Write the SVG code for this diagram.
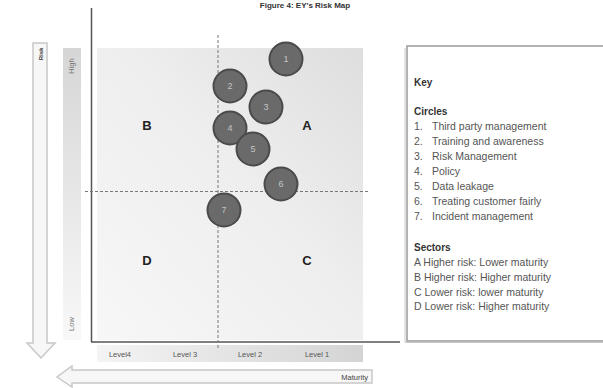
<svg xmlns="http://www.w3.org/2000/svg" width="603" height="388" viewBox="0 0 603 388">
<defs>
<linearGradient id="bg" x1="1" y1="0" x2="0" y2="1">
<stop offset="0" stop-color="#dedede"/>
<stop offset="0.45" stop-color="#eeeeee"/>
<stop offset="1" stop-color="#f7f7f7"/>
</linearGradient>
<linearGradient id="vbar" x1="0" y1="0" x2="0" y2="1">
<stop offset="0" stop-color="#d6d6d6"/>
<stop offset="1" stop-color="#f8f8f8"/>
</linearGradient>
<linearGradient id="hbar" x1="0" y1="0" x2="1" y2="0">
<stop offset="0" stop-color="#f4f4f4"/>
<stop offset="1" stop-color="#d4d4d4"/>
</linearGradient>
<style>
.c{fill:#6a6a6a;stroke:#4a4a4a;stroke-width:2}
.cl{font-family:"Liberation Sans",Arial,sans-serif;font-size:9px;fill:#c4c4c4;text-anchor:middle}
.q{font-family:"Liberation Sans",Arial,sans-serif;font-size:13px;font-weight:bold;fill:#222;text-anchor:middle}
.lv{font-family:"Liberation Sans",Arial,sans-serif;font-size:7.5px;fill:#555;text-anchor:middle}
.k{font-family:"Liberation Sans",Arial,sans-serif;font-size:10.5px;fill:#555}
.kb{font-family:"Liberation Sans",Arial,sans-serif;font-size:10px;fill:#333;font-weight:bold}
.d{stroke:#777;stroke-width:1;stroke-dasharray:3,2;fill:none}
.arr{fill:#f7f7f7;stroke:#c8c8c8;stroke-width:1.5}
</style>
</defs>
<rect width="603" height="388" fill="#fff"/>
<text x="305" y="8" font-family="Liberation Sans,Arial,sans-serif" font-size="8" font-weight="bold" fill="#333" text-anchor="middle">Figure 4: EY's Risk Map</text>

<g id="risk-arrow">
<path class="arr" d="M33,43 H47 V343 H55 L41,358 L27,343 H33 Z"/>
<text x="0" y="0" transform="translate(43,54) rotate(-90)" font-family="Liberation Sans,Arial,sans-serif" font-size="6" font-weight="bold" fill="#333" text-anchor="middle">Risk</text>
</g>
<g id="high-low-bar">
<rect x="63" y="48" width="18" height="292" fill="url(#vbar)"/>
<text transform="translate(74,66) rotate(-90)" font-family="Liberation Sans,Arial,sans-serif" font-size="7.5" fill="#777" text-anchor="middle">High</text>
<text transform="translate(74,324) rotate(-90)" font-family="Liberation Sans,Arial,sans-serif" font-size="7.5" fill="#777" text-anchor="middle">Low</text>
</g>
<g id="maturity-arrow">
<path class="arr" d="M372,370 V383 H72 V387 L57,377 L72,366 V370 Z"/>
<text x="368" y="380" font-family="Liberation Sans,Arial,sans-serif" font-size="7.5" fill="#444" text-anchor="end">Maturity</text>
</g>

<g id="plot-area">
<rect x="97" y="48" width="266" height="292" fill="url(#bg)"/>
</g>
<g id="level-bar">
<rect x="97" y="345" width="266" height="17" fill="url(#hbar)"/>
<text class="lv" x="120" y="357">Level4</text>
<text class="lv" x="185" y="357">Level 3</text>
<text class="lv" x="250" y="357">Level 2</text>
<text class="lv" x="317" y="357">Level 1</text>
</g>

<g id="connectors">
<line x1="91.5" y1="8" x2="91.5" y2="342" stroke="#555" stroke-width="1.5"/>
<line x1="91" y1="342" x2="400" y2="342" stroke="#555" stroke-width="1.5"/>
<line class="d" x1="218" y1="35" x2="218" y2="350"/>
<line class="d" x1="85" y1="191.5" x2="368" y2="191.5"/>
</g>

<g id="quadrant-B"><text class="q" x="147" y="130">B</text></g>
<g id="quadrant-A"><text class="q" x="307" y="130">A</text></g>
<g id="quadrant-D"><text class="q" x="147" y="265">D</text></g>
<g id="quadrant-C"><text class="q" x="307" y="265">C</text></g>

<g id="circle-1"><circle class="c" cx="286" cy="59" r="16.5"/><text class="cl" x="286" y="62">1</text></g>
<g id="circle-2"><circle class="c" cx="230" cy="86" r="16.5"/><text class="cl" x="230" y="89">2</text></g>
<g id="circle-3"><circle class="c" cx="266" cy="107" r="16.5"/><text class="cl" x="266" y="110">3</text></g>
<g id="circle-4"><circle class="c" cx="230" cy="128" r="16.5"/><text class="cl" x="230" y="131">4</text></g>
<g id="circle-5"><circle class="c" cx="253" cy="149" r="16.5"/><text class="cl" x="253" y="152">5</text></g>
<g id="circle-6"><circle class="c" cx="281" cy="184" r="16.5"/><text class="cl" x="281" y="187">6</text></g>
<g id="circle-7"><circle class="c" cx="224" cy="210" r="16.5"/><text class="cl" x="224" y="213">7</text></g>

<g id="key">
<rect x="407" y="46" width="200" height="295" fill="#fff" stroke="#9a9a9a" stroke-width="1.5"/>
<line x1="405" y1="48" x2="405" y2="342" stroke="#c8c8c8" stroke-width="1"/>
<line x1="405" y1="342.5" x2="603" y2="342.5" stroke="#c8c8c8" stroke-width="1"/>
<text class="kb" x="414" y="86">Key</text>
<text class="kb" x="414" y="115">Circles</text>
<text class="k" x="414" y="130">1.</text><text class="k" x="432" y="130">Third party management</text>
<text class="k" x="414" y="145">2.</text><text class="k" x="432" y="145">Training and awareness</text>
<text class="k" x="414" y="160">3.</text><text class="k" x="432" y="160">Risk Management</text>
<text class="k" x="414" y="175">4.</text><text class="k" x="432" y="175">Policy</text>
<text class="k" x="414" y="190">5.</text><text class="k" x="432" y="190">Data leakage</text>
<text class="k" x="414" y="205">6.</text><text class="k" x="432" y="205">Treating customer fairly</text>
<text class="k" x="414" y="220">7.</text><text class="k" x="432" y="220">Incident management</text>
<text class="kb" x="414" y="251">Sectors</text>
<text class="k" x="414" y="266">A Higher risk: Lower maturity</text>
<text class="k" x="414" y="281">B Higher risk: Higher maturity</text>
<text class="k" x="414" y="296">C Lower risk: lower maturity</text>
<text class="k" x="414" y="310">D Lower risk: Higher maturity</text>
</g>
</svg>
